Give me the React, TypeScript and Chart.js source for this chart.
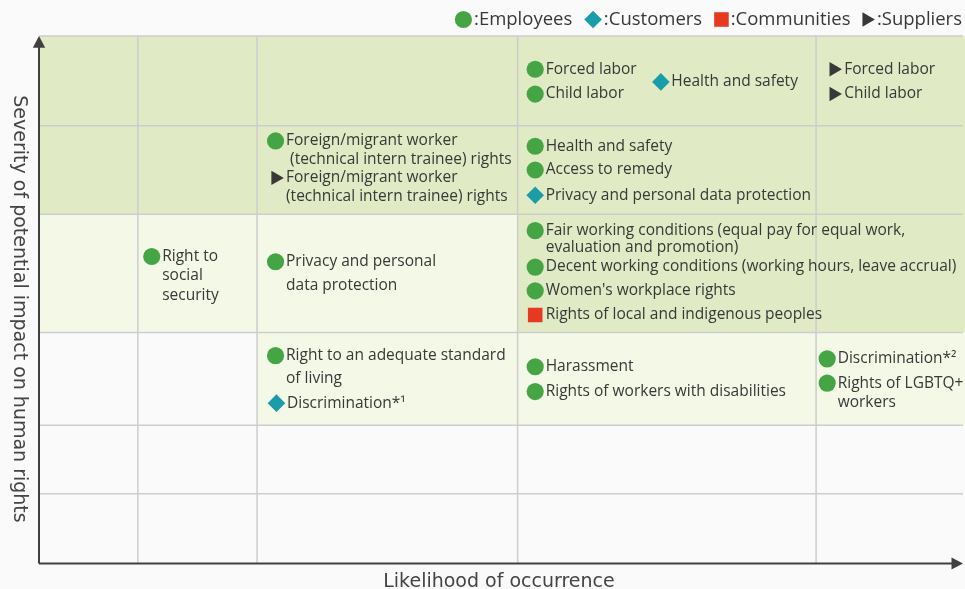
import React, { useEffect, useRef } from "react";
import { Chart, registerables } from "chart.js";

Chart.register(...registerables);

// Cell boundaries on the two axes (0–100 scale)
const likelihoodBounds = [0, 10.7, 23.6, 51.8, 84.1, 100];
const severityBounds = [0, 13.2, 26.2, 43.8, 66.2, 83.0, 100];

// Risk zones (indices into the bound arrays)
const zoneLevel = ["high", "high", "medium", "medium"];
const zoneColFrom = [0, 3, 0, 2];
const zoneColTo = [5, 5, 3, 5];
const zoneRowFrom = [4, 3, 3, 2];
const zoneRowTo = [6, 4, 4, 3];

const groups = ["Employees", "Customers", "Communities", "Suppliers"];

// 0 Employees, 1 Customers, 2 Communities, 3 Suppliers
const itemGroup = [0, 0, 1, 3, 3, 0, 3, 0, 0, 1, 0, 0, 0, 0, 0, 2, 0, 1, 0, 0, 0, 0];
const itemLabel = [
  "Forced labor",
  "Child labor",
  "Health and safety",
  "Forced labor",
  "Child labor",
  "Foreign/migrant worker\n (technical intern trainee) rights",
  "Foreign/migrant worker\n(technical intern trainee) rights",
  "Health and safety",
  "Access to remedy",
  "Privacy and personal data protection",
  "Right to\nsocial\nsecurity",
  "Privacy and personal\ndata protection",
  "Fair working conditions (equal pay for equal work,\nevaluation and promotion)",
  "Decent working conditions (working hours, leave accrual)",
  "Women's workplace rights",
  "Rights of local and indigenous peoples",
  "Right to an adequate standard\nof living",
  "Discrimination*\u00B9",
  "Harassment",
  "Rights of workers with disabilities",
  "Discrimination*\u00B2",
  "Rights of LGBTQ+\nworkers",
];
const itemLikelihood = [
  53.7, 53.7, 67.3, 86.0, 86.0, 25.6, 25.6, 53.7, 53.7, 53.7, 12.2, 25.6, 53.7, 53.7, 53.7, 53.7, 25.6, 25.7,
  53.7, 53.7, 85.3, 85.3,
];
const itemSeverity = [
  93.7, 89.0, 91.3, 93.7, 89.0, 80.1, 73.1, 79.1, 74.6, 69.8, 58.2, 57.2, 63.1, 56.2, 51.7, 47.1, 39.4, 30.4,
  37.3, 32.6, 38.8, 34.2,
];

// Styles
const groupColor = ["#45A545", "#1A9DA8", "#E6391F", "#383838"];
const groupShape = ["circle", "rectRot", "rect", "triangle"];
const groupRadius = [8.6, 8.8, 10.3, 8.3];
const groupRotation = [0, 0, 0, 90];
const zoneColor: Record<string, string> = { high: "#E0EAC4", medium: "#F4F8E6" };
const lineGapOverride: Record<number, number> = { 11: 23.5, 12: 17, 16: 23, 10: 19.5 };
const textColor = "#383838";
const itemFont = '15.5px "Open Sans"';
const labelOffset = 10.5;

function drawMarker(ctx: CanvasRenderingContext2D, g: number, x: number, y: number) {
  const r = groupRadius[g];
  ctx.fillStyle = groupColor[g];
  ctx.beginPath();
  const shape = groupShape[g];
  if (shape === "circle") {
    ctx.arc(x, y, r, 0, Math.PI * 2);
  } else if (shape === "rectRot") {
    ctx.moveTo(x, y - r);
    ctx.lineTo(x + r, y);
    ctx.lineTo(x, y + r);
    ctx.lineTo(x - r, y);
  } else if (shape === "rect") {
    const s = r * Math.SQRT1_2;
    ctx.rect(x - s, y - s, 2 * s, 2 * s);
  } else {
    const h = (r * Math.sqrt(3)) / 2;
    ctx.moveTo(x + r, y);
    ctx.lineTo(x - r / 2, y - h);
    ctx.lineTo(x - r / 2, y + h);
  }
  ctx.closePath();
  ctx.fill();
}

function markerExtent(g: number): [number, number] {
  const r = groupRadius[g];
  const shape = groupShape[g];
  if (shape === "rect") return [r * Math.SQRT1_2, r * Math.SQRT1_2];
  if (shape === "triangle") return [r / 2, r];
  return [r, r];
}

const matrixPlugin = {
  id: "matrix",
  beforeDraw(chart: any) {
    const { ctx, chartArea, scales } = chart;
    const xs = scales.x;
    const ys = scales.y;
    ctx.save();
    for (let i = 0; i < zoneLevel.length; i++) {
      const x0 = xs.getPixelForValue(likelihoodBounds[zoneColFrom[i]]);
      let x1 = xs.getPixelForValue(likelihoodBounds[zoneColTo[i]]);
      if (zoneColTo[i] === likelihoodBounds.length - 1) x1 = chart.width;
      const y0 = ys.getPixelForValue(severityBounds[zoneRowTo[i]]);
      const y1 = ys.getPixelForValue(severityBounds[zoneRowFrom[i]]);
      ctx.fillStyle = zoneColor[zoneLevel[i]];
      ctx.fillRect(x0, y0, x1 - x0, y1 - y0);
    }
    // grid lines
    ctx.strokeStyle = "#CDCDCD";
    ctx.lineWidth = 1.5;
    ctx.beginPath();
    likelihoodBounds.forEach((v, i) => {
      if (i === 0 || i === likelihoodBounds.length - 1) return;
      const px = xs.getPixelForValue(v);
      ctx.moveTo(px, chartArea.top);
      ctx.lineTo(px, chartArea.bottom);
    });
    severityBounds.forEach((v, i) => {
      if (i === 0) return;
      const py = ys.getPixelForValue(v);
      ctx.moveTo(chartArea.left, py);
      ctx.lineTo(chartArea.right, py);
    });
    ctx.stroke();
    ctx.restore();
  },
  beforeDatasetsDraw(chart: any) {
    const { ctx, chartArea } = chart;
    const { left, bottom, top, right } = chartArea;
    ctx.save();
    ctx.strokeStyle = "#404040";
    ctx.fillStyle = "#404040";
    ctx.lineWidth = 2;
    ctx.beginPath();
    ctx.moveTo(left, bottom);
    ctx.lineTo(left, top + 8);
    ctx.moveTo(left, bottom);
    ctx.lineTo(right - 8, bottom);
    ctx.stroke();
    // arrowheads
    ctx.beginPath();
    ctx.moveTo(left, top);
    ctx.lineTo(left + 6.2, top + 11.7);
    ctx.lineTo(left - 6.2, top + 11.7);
    ctx.closePath();
    ctx.fill();
    ctx.beginPath();
    ctx.moveTo(right, bottom);
    ctx.lineTo(right - 11.5, bottom - 6);
    ctx.lineTo(right - 11.5, bottom + 6);
    ctx.closePath();
    ctx.fill();
    ctx.restore();
  },
  afterDatasetsDraw(chart: any) {
    const { ctx } = chart;
    ctx.save();
    ctx.font = itemFont;
    ctx.fillStyle = textColor;
    ctx.textBaseline = "middle";
    ctx.textAlign = "left";
    chart.data.datasets.forEach((ds: any, di: number) => {
      const meta = chart.getDatasetMeta(di);
      meta.data.forEach((el: any, j: number) => {
        const raw = ds.data[j];
        const lines = String(raw.label).split("\n");
        const gap = lineGapOverride[raw.idx] ?? 19;
        lines.forEach((ln: string, k: number) => {
          ctx.fillText(ln, el.x + labelOffset, el.y + k * gap);
        });
      });
    });
    ctx.restore();
  },
  afterDraw(chart: any) {
    const { ctx } = chart;
    ctx.save();
    // Legend
    ctx.font = '18.5px "Open Sans"';
    ctx.textBaseline = "middle";
    ctx.textAlign = "left";
    const texts = groups.map((g) => ":" + g);
    const gapMarkerText = 2;
    const gapItems = 12;
    let total = 0;
    groups.forEach((_, g) => {
      const [l, r] = markerExtent(g);
      total += l + r + gapMarkerText + ctx.measureText(texts[g]).width;
      if (g < groups.length - 1) total += gapItems;
    });
    let x = 962 - total;
    const ly = 19.5;
    groups.forEach((_, g) => {
      const [l, r] = markerExtent(g);
      drawMarker(ctx, g, x + l, ly);
      x += l + r + gapMarkerText;
      ctx.fillStyle = textColor;
      ctx.fillText(texts[g], x, ly);
      x += ctx.measureText(texts[g]).width + gapItems;
    });

    // Axis titles
    ctx.font = '19px "DejaVu Sans"';
    ctx.fillStyle = "#444444";
    ctx.textAlign = "center";
    ctx.textBaseline = "alphabetic";
    const { chartArea } = chart;
    ctx.fillText("Likelihood of occurrence", (chartArea.left + chartArea.right) / 2 - 2, 587);
    ctx.translate(13.5, 309);
    ctx.rotate(Math.PI / 2);
    ctx.fillText("Severity of potential impact on human rights", 0, 0);
    ctx.restore();
  },
};

export default function App() {
  const canvasRef = useRef<HTMLCanvasElement | null>(null);

  useEffect(() => {
    document.body.style.margin = "0";
    document.body.style.background = "#FAFAFA";
    const canvas = canvasRef.current;
    if (!canvas) return;

    const datasets = groups.map((name, g) => ({
      label: name,
      data: itemLabel
        .map((label, i) => ({ x: itemLikelihood[i], y: itemSeverity[i], label, idx: i, g: itemGroup[i] }))
        .filter((p) => p.g === g),
      pointStyle: groupShape[g] as any,
      pointRadius: groupRadius[g],
      pointHoverRadius: groupRadius[g],
      pointRotation: groupRotation[g],
      backgroundColor: groupColor[g],
      borderColor: groupColor[g],
      borderWidth: 0,
      pointBorderWidth: 0,
      showLine: false,
    }));

    const chart = new Chart(canvas, {
      type: "scatter",
      data: { datasets },
      options: {
        animation: false,
        responsive: false,
        devicePixelRatio: 1,
        events: [],
        layout: { autoPadding: false, padding: { left: 39, right: 2, top: 36, bottom: 25.5 } },
        plugins: { legend: { display: false }, tooltip: { enabled: false }, title: { display: false } },
        scales: {
          x: { type: "linear", min: 0, max: 100, display: false },
          y: { type: "linear", min: 0, max: 100, display: false },
        },
      },
      plugins: [matrixPlugin],
    });
    return () => chart.destroy();
  }, []);

  return (
    <div style={{ width: 965, height: 589 }}>
      <canvas ref={canvasRef} width={965} height={589} />
    </div>
  );
}
